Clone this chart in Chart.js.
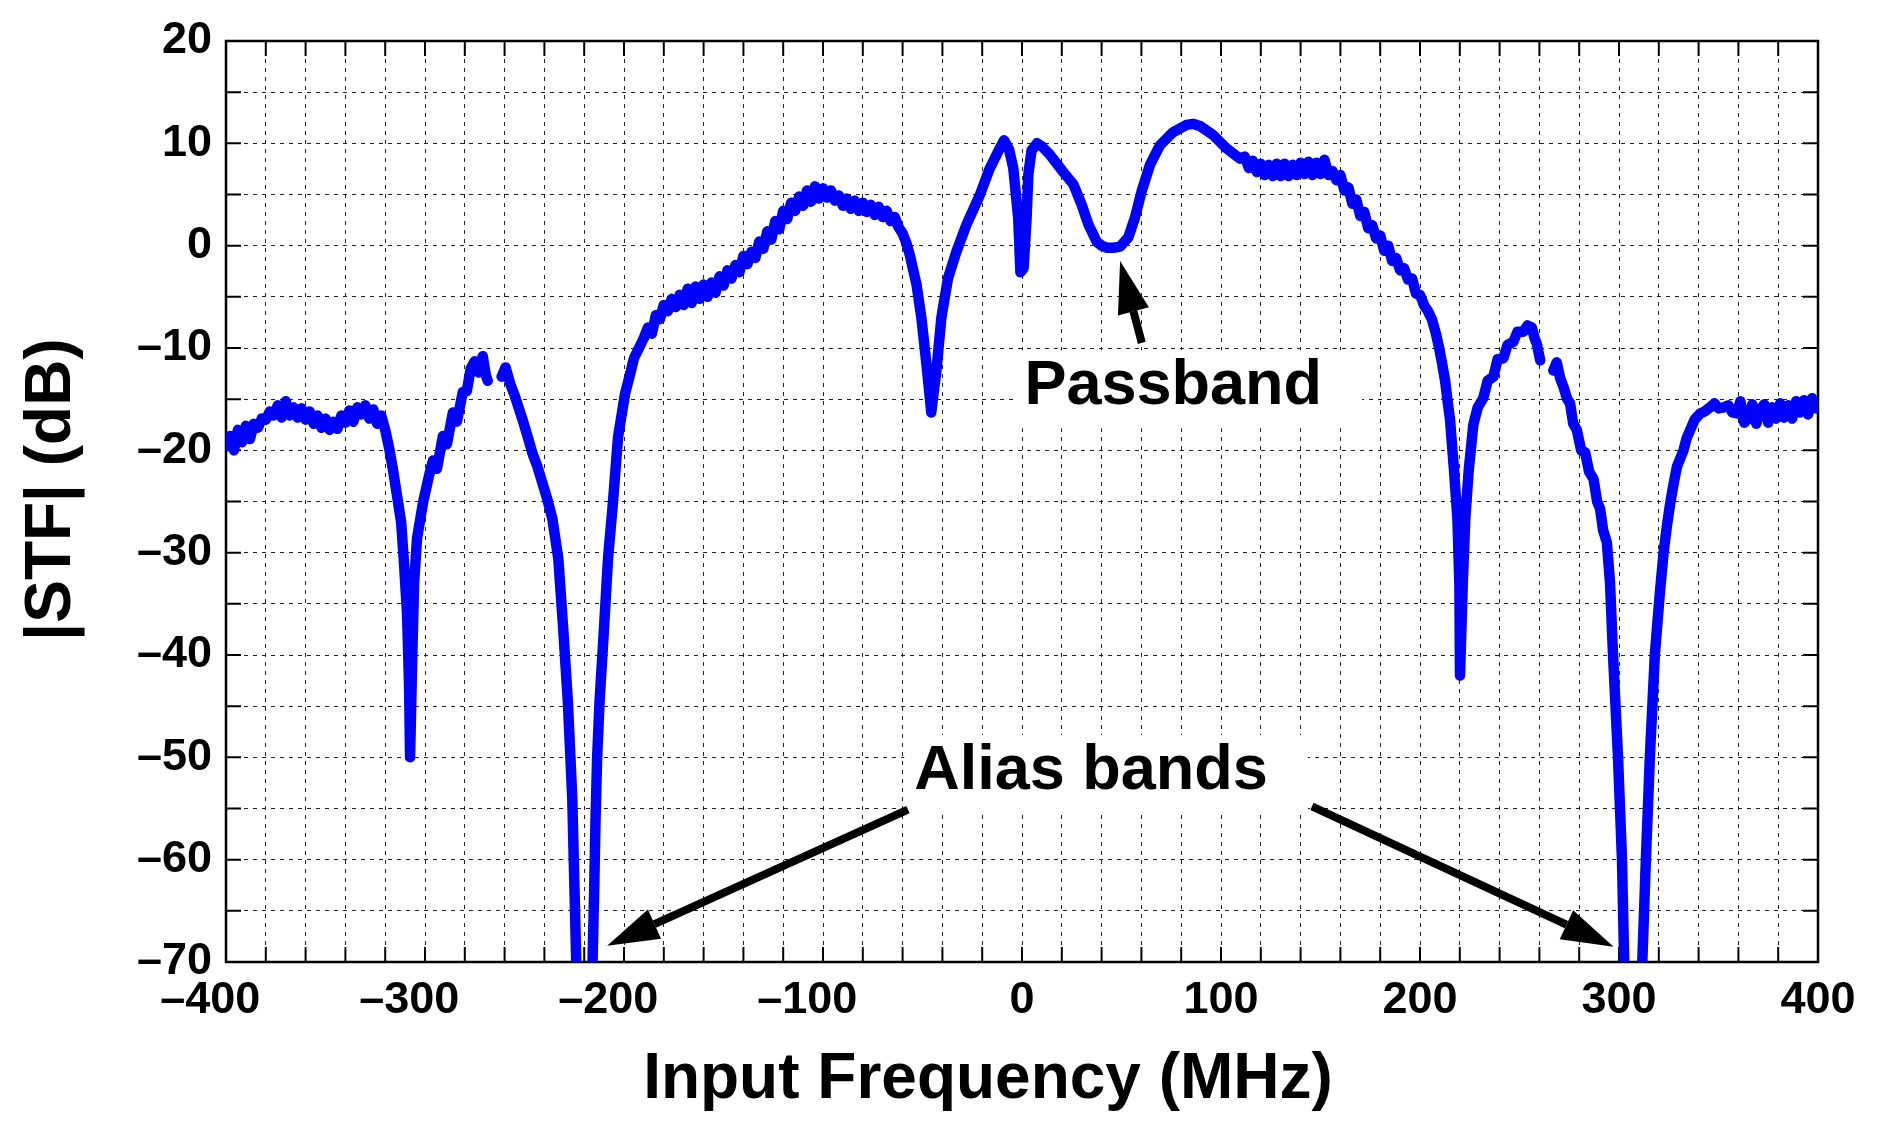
<!DOCTYPE html>
<html>
<head>
<meta charset="utf-8">
<title>|STF| vs input frequency</title>
<script src="https://cdn.jsdelivr.net/npm/chart.js@4.4.1/dist/chart.umd.min.js"></script>
<style>
  html, body { margin: 0; padding: 0; background: #fff; }
  #wrap { width: 1881px; height: 1122px; }
</style>
</head>
<body>
<div id="wrap"><canvas id="stfChart"></canvas></div>
<script>
const freqMHz = [
  -400,-398,-396,-394,-392,-390,-388,-386,-384,-382,
  -380,-378,-376,-374,-372,-370,-368,-366,-364,-362,
  -360,-358,-356,-354,-352,-350,-348,-346,-344,-342,
  -340,-338,-336,-334,-332,-330,-328,-326,-324,-322,
  -320,-318,-316,-314,-312,-310.5,-309,-308,-307.5,-306.5,
  -305.5,-304,-301,-298,-296,-294,-291,-289,-286,-284,
  -281,-279,-277,-275,-273,-271,-269.5,-268.5,-265,-261.5,
  -259.5,-257,-255,-253,-251,-248.5,-246,-243.5,-241,-238.5,
  -236,-233,-230.7,-228.2,-226,-225,-224,-220,-215.8,-215,
  -214.3,-213.5,-212.3,-210.3,-208,-205.6,-203,-199.5,-197,-195,
  -192,-190,-188,-186,-184,-182,-180,-178,-176,-174,
  -172,-170,-168,-166,-164,-162,-160,-158,-156,-154,
  -152,-150,-148,-146,-144,-142,-140,-138,-136,-134,
  -132,-130,-128,-126,-124,-122,-120,-118,-116,-114,
  -112,-110,-108,-106,-104,-102,-100,-98,-96,-94,
  -92,-90,-88,-86,-84,-82,-80,-78,-76,-74,
  -72,-70,-68,-66,-64,-62,-60,-58,-56.4,-53,
  -50.6,-48,-46.5,-45.6,-44.5,-43,-40.5,-37.2,-33,-28,
  -21.3,-16.3,-11.2,-9,-6.5,-4.4,-1.9,-0.8,0.8,2.3,
  3.2,4.8,7.5,10,14,20.7,25.8,30,33.3,37.5,
  40,42.5,46,49.2,53.4,56.7,60.1,64.3,69.3,76,
  82.7,86,89.4,96.1,102.8,109.5,112,114,116,118,
  120,122,124,126,128,130,132,134,136,138,
  140,142,144,146,148,150,152,154,156,158,
  160,162,164,166,168,170,172,174,176,178,
  180,182,184,186,188,190,192,194,196,198,
  200,202,204,206,208,209.5,211,212.6,214,215.1,
  216.3,217.3,218.8,219.8,220.1,221.5,222.8,224.5,226.8,229,
  231.8,234,236.9,239,241.9,244,246.9,249,252,254,
  256.2,257.5,258.7,260.4,263,267,268.7,270.5,272.1,274,
  275.4,277,278.8,281,283,285,287.2,289,290.5,292,
  293.9,295.5,297,299.5,301.5,302.6,307,311.7,313.5,315.5,
  318,320.5,322.4,324,325.7,327.5,329.1,332.4,334,335.8,
  338,340.8,343,345.8,348,350,352.6,355,357,359.3,
  361,363,365,367,369,371,373,375,377,379,
  381,383,385,387,389,391,393,395,397,399,400
];
const stfDb = [
  -19.6,-18.6,-20.0,-18.0,-19.2,-17.6,-18.9,-17.4,-17.8,-16.9,
  -17.0,-16.2,-16.6,-15.6,-16.8,-15.2,-16.6,-15.8,-16.8,-15.9,
  -17.0,-16.2,-17.4,-16.6,-17.8,-16.9,-18.0,-17.2,-17.9,-16.6,
  -17.3,-16.1,-17.2,-15.8,-16.5,-15.6,-16.9,-16.0,-17.4,-16.6,
  -18.0,-19.8,-22.0,-24.5,-27.0,-31.2,-36,-43,-50,-41,
  -33,-28.6,-25.1,-22.5,-21.0,-21.8,-18.6,-19.4,-16.3,-17.2,
  -14.3,-14.2,-12.0,-11.3,-12.4,-10.8,-12.6,-13.2,null,-12.8,
  -11.9,-13.6,-14.6,-15.8,-17.0,-18.6,-20.3,-21.6,-23.2,-24.8,
  -26.7,-30.6,-37,-44.6,-54,-62,-70,-95,-70,-63,
  -56,-50,-44.6,-38.2,-30.5,-25.2,-18.7,-14.5,-12.6,-11.0,
  -9.8,-9.0,-8.0,-8.6,-6.8,-7.2,-5.8,-6.4,-5.2,-6.0,
  -4.8,-5.8,-4.2,-5.6,-4.0,-5.2,-3.8,-5.0,-3.6,-4.6,
  -3.0,-3.9,-2.4,-3.2,-1.9,-2.6,-1.0,-1.8,-0.6,-1.2,
  0.4,-0.3,1.4,0.6,2.4,1.6,3.4,2.6,4.2,3.4,
  4.8,3.9,5.4,4.3,5.8,4.6,5.6,4.7,5.4,4.4,
  4.9,3.9,4.6,3.6,4.4,3.4,4.2,3.3,4.0,3.0,
  3.8,2.8,3.4,2.4,2.8,1.8,1.2,0.2,-0.9,-3.8,
  -7,-11.6,-14.5,-16.3,-14.5,-12.2,-7,-3.2,-0.6,2,
  4.9,7.5,9.5,10.3,9.4,7.6,2.7,-2.6,-2.2,2.7,
  7.0,9.3,10.0,9.7,8.9,7.2,6,4,2.1,0.4,
  0.0,-0.2,-0.2,-0.1,0.8,2.7,5.3,7.9,9.8,11.1,
  11.8,11.9,11.7,10.8,9.5,8.5,8.7,7.6,8.3,7.2,
  8.0,6.9,7.9,6.8,8.0,6.8,8.0,6.8,7.9,6.9,
  8.1,7.0,8.2,6.9,8.1,7.0,8.4,6.9,7.3,6.4,
  6.9,5.4,5.7,4.1,4.5,2.9,3.3,1.7,2.0,0.7,
  1.0,-0.5,0.0,-1.5,-1.2,-2.4,-2.2,-3.3,-3.2,-4.7,
  -4.8,-5.8,-6.4,-7.2,-8.6,-9.9,-11.4,-13.2,-15.4,-17,
  -20,-22.5,-26.7,-33.2,-42,-33,-26.5,-21.9,-17.5,-15.8,
  -14.9,-13.2,-12.8,-11.1,-11.0,-9.7,-9.4,-8.4,-8.4,-7.8,
  -8.0,-9.0,-9.6,-11.2,null,-12.2,-11.4,-13.0,-13.8,-15.0,
  -15.4,-17.4,-18.0,-20.0,-20.2,-22.1,-22.8,-25.0,-25.7,-27.8,
  -29,-33,-40,-50,-60,-70,-95,-70,-60,-50,
  -40,-34,-30,-27.5,-25.2,-23.2,-21.6,-20,-18.8,-18,
  -17.0,-16.4,-16.2,-15.8,-15.4,-15.9,-15.8,-15.6,-16.3,-16.4,
  -15.2,-17.3,-16.9,-15.5,-17.4,-16.0,-15.5,-17.3,-15.8,-16.9,
  -15.4,-16.8,-15.6,-16.9,-15.2,-16.3,-15.1,-16.5,-14.9,-15.9,-15.3
];

// labelled ticks (grid is finer: 20 MHz / 5 dB)
const xTickValues = [-400, -300, -200, -100, 0, 100, 200, 300, 400];
const xTickLabels = ['\u2013400', '\u2013300', '\u2013200', '\u2013100', '0', '100', '200', '300', '400'];
const yTickValues = [20, 10, 0, -10, -20, -30, -40, -50, -60, -70];
const yTickLabels = ['20', '10', '0', '\u201310', '\u201320', '\u201330', '\u201340', '\u201350', '\u201360', '\u201370'];

const xTitle = 'Input Frequency (MHz)';
const yTitle = '|STF| (dB)';

// annotations, in data units
const noteTexts = ['Passband', 'Alias bands'];
const noteAt = [[76, -15.5], [34.7, -53.1]];
const arrowFrom = [[60.2, -9.5], [-57.3, -55.1], [145.7, -54.8]];
const arrowTo = [[49.3, -1.5], [-208.5, -68.4], [297.3, -68.5]];

const FONT = "'Liberation Sans', Arial, Helvetica, sans-serif";

function drawArrow(ctx, x0, y0, x1, y1) {
  const ang = Math.atan2(y1 - y0, x1 - x0);
  const headLen = 52, headHalf = 16;
  const bx = x1 - headLen * Math.cos(ang);
  const by = y1 - headLen * Math.sin(ang);
  ctx.lineWidth = 8;
  ctx.lineCap = 'butt';
  ctx.beginPath();
  ctx.moveTo(x0, y0);
  ctx.lineTo(bx, by);
  ctx.stroke();
  ctx.beginPath();
  ctx.moveTo(x1, y1);
  ctx.lineTo(bx + headHalf * Math.sin(ang), by - headHalf * Math.cos(ang));
  ctx.lineTo(bx - headHalf * Math.sin(ang), by + headHalf * Math.cos(ang));
  ctx.closePath();
  ctx.fill();
}

// box frame with inward ticks, text notes, arrows and axis titles
const frameAndNotes = {
  id: 'frameAndNotes',
  beforeDatasetsDraw(chart) {
    const { ctx, chartArea: a, scales: { x, y } } = chart;
    ctx.save();
    ctx.strokeStyle = '#000';
    ctx.lineWidth = 2;
    ctx.beginPath();
    x.ticks.forEach(t => {
      const px = x.getPixelForValue(t.value);
      ctx.moveTo(px, a.bottom); ctx.lineTo(px, a.bottom - 15);
      ctx.moveTo(px, a.top); ctx.lineTo(px, a.top + 15);
    });
    y.ticks.forEach(t => {
      const py = y.getPixelForValue(t.value);
      ctx.moveTo(a.left, py); ctx.lineTo(a.left + 15, py);
      ctx.moveTo(a.right, py); ctx.lineTo(a.right - 15, py);
    });
    ctx.stroke();
    ctx.lineWidth = 2.5;
    ctx.strokeRect(a.left, a.top, a.right - a.left, a.bottom - a.top);
    ctx.restore();
  },
  afterDatasetsDraw(chart) {
    const { ctx, chartArea: a, scales: { x, y } } = chart;
    ctx.save();
    ctx.font = 'bold 63px ' + FONT;
    ctx.textAlign = 'center';
    ctx.textBaseline = 'alphabetic';
    noteTexts.forEach((txt, i) => {
      const px = x.getPixelForValue(noteAt[i][0]);
      const py = y.getPixelForValue(noteAt[i][1]);
      const w = ctx.measureText(txt).width;
      ctx.fillStyle = '#fff';
      ctx.fillRect(px - w / 2 - 10, py - 54, w + 50, 78);
      ctx.fillStyle = '#000';
      ctx.fillText(txt, px, py);
    });
    ctx.strokeStyle = '#000';
    ctx.fillStyle = '#000';
    arrowFrom.forEach((p, i) => {
      drawArrow(ctx,
        x.getPixelForValue(p[0]), y.getPixelForValue(p[1]),
        x.getPixelForValue(arrowTo[i][0]), y.getPixelForValue(arrowTo[i][1]));
    });

    // axis titles sit a little off the plot centre in the original
    ctx.font = 'bold 64px ' + FONT;
    ctx.fillText(xTitle, (a.left + a.right) / 2 - 34, chart.height - 24);
    ctx.translate(52, (a.top + a.bottom) / 2 - 12);
    ctx.rotate(-Math.PI / 2);
    ctx.textBaseline = 'middle';
    ctx.fillText(yTitle, 0, 0);
    ctx.restore();
  }
};

const points = freqMHz.map((f, i) => ({ x: f, y: stfDb[i] }));

new Chart(document.getElementById('stfChart'), {
  type: 'line',
  data: {
    datasets: [{
      data: points,
      borderColor: '#0000ff',
      borderWidth: 10.5,
      borderCapStyle: 'round',
      borderJoinStyle: 'round',
      pointRadius: 0,
      tension: 0,
      spanGaps: false,
      fill: false
    }]
  },
  options: {
    responsive: true,
    maintainAspectRatio: false,
    animation: false,
    devicePixelRatio: 1,
    layout: { padding: { top: 35, right: 63, bottom: 0, left: 0 } },
    plugins: { legend: { display: false }, tooltip: { enabled: false } },
    scales: {
      x: {
        type: 'linear',
        min: -400,
        max: 400,
        afterFit(s) { s.height = 160; },
        ticks: {
          stepSize: 20,
          autoSkip: false,
          maxRotation: 0,
          padding: 12,
          color: '#000',
          font: { family: FONT, size: 45, weight: 'bold' },
          callback: v => {
            const k = xTickValues.indexOf(Math.round(v));
            if (k < 0) return '';
            // negative labels sit a bit left of their tick in the original
            return xTickValues[k] < 0 ? xTickLabels[k] + '\u2002\u2009' : xTickLabels[k];
          }
        },
        grid: { color: '#222', lineWidth: 1, drawTicks: false },
        border: { display: false, dash: [4, 5] }
      },
      y: {
        min: -70,
        max: 20,
        afterFit(s) { s.width = 226; },
        ticks: {
          stepSize: 5,
          autoSkip: false,
          padding: 14,
          color: '#000',
          font: { family: FONT, size: 45, weight: 'bold' },
          callback: v => {
            const k = yTickValues.indexOf(Math.round(v));
            return k >= 0 ? yTickLabels[k] : '';
          }
        },
        grid: { color: '#222', lineWidth: 1, drawTicks: false },
        border: { display: false, dash: [4, 5] }
      }
    }
  },
  plugins: [frameAndNotes]
});
</script>
</body>
</html>
